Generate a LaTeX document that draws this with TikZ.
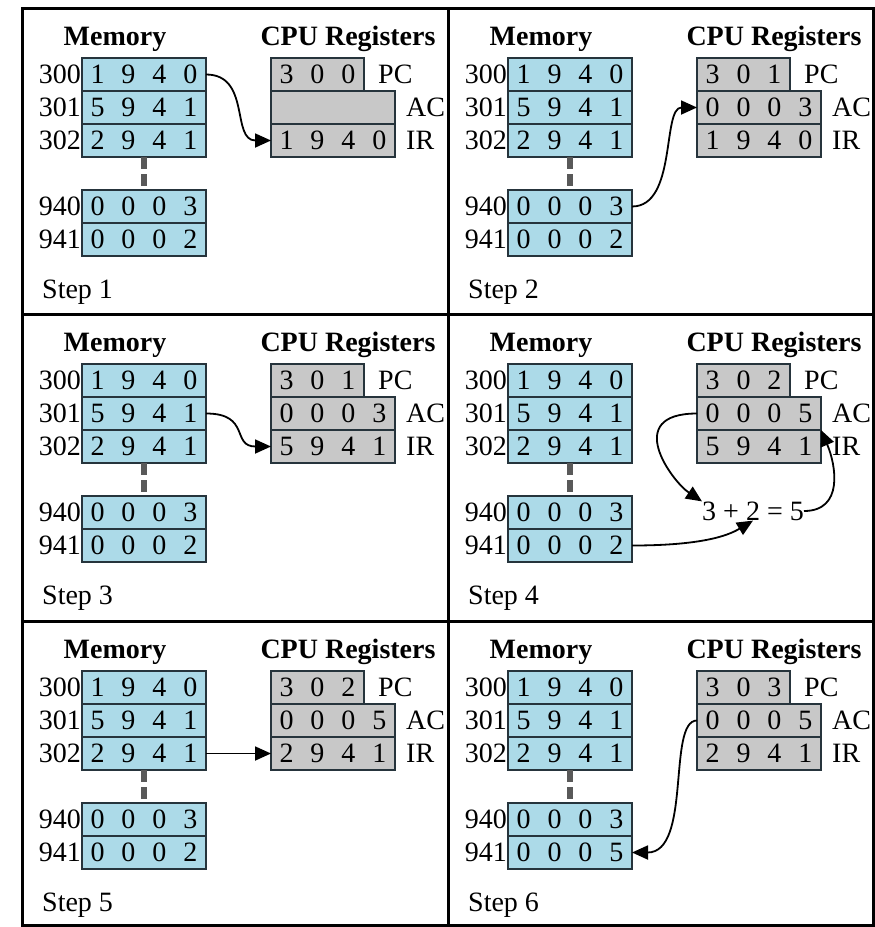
\documentclass[tikz,border=0pt]{standalone}
\usepackage{fontspec}
\setmainfont{Liberation Serif}
\usepackage{xcolor}
\usepackage{tikz}
\usetikzlibrary{
  arrows.meta,
  positioning
}
\definecolor{memblue}{RGB}{172,218,232}
\definecolor{reggray}{RGB}{200,200,200}
\definecolor{cellline}{RGB}{38,52,60}
\newcommand{\cellfont}{\fontsize{28}{30}\selectfont}
\newcommand{\dg}[1]{\makebox[31pt]{#1}}
\tikzset{
  memcell/.style   = {draw=cellline, fill=memblue, line width=2pt,
                      minimum width=124pt, minimum height=33pt,
                      inner sep=0pt, outer sep=0pt, font=\cellfont},
  regcell/.style   = {memcell, fill=reggray},
  addr/.style      = {inner sep=1pt, font=\cellfont},
  reglabel/.style  = {inner sep=1pt, font=\cellfont},
  heading/.style   = {inner sep=0pt, font=\cellfont\bfseries, anchor=base},
  steplabel/.style = {inner sep=0pt, font=\cellfont, anchor=base west},
  gap/.style       = {line width=6pt, gray!70!black, dash pattern=on 12pt off 5pt},
  arrow/.style     = {-{Triangle[length=16pt, width=14pt]}, line width=1.8pt},
  frame/.style     = {line width=3pt},
}
% one panel: #1 name, #2 PC, #3 AC, #4 IR, #5 word 941, #6 step
\newcommand{\cpustate}[6]{%
  \node[heading] (#1-mem) at (93,37) {Memory};
  \node[heading] (#1-cpu) at (326,37) {CPU Registers};
  \node[memcell] (#1-300) at (122,66.5) {\dg1\dg9\dg4\dg0};
  \node[memcell, below=0pt of #1-300] (#1-301) {\dg5\dg9\dg4\dg1};
  \node[memcell, below=0pt of #1-301] (#1-302) {\dg2\dg9\dg4\dg1};
  \node[memcell, below=33pt of #1-302] (#1-940) {\dg0\dg0\dg0\dg3};
  \node[memcell, below=0pt of #1-940] (#1-941) {#5};
  \draw[gap] (#1-302) -- (#1-940);
  \node[addr, left=0pt of #1-300] (#1-a300) {300};
  \node[addr, left=0pt of #1-301] (#1-a301) {301};
  \node[addr, left=0pt of #1-302] (#1-a302) {302};
  \node[addr, left=0pt of #1-940] (#1-a940) {940};
  \node[addr, left=0pt of #1-941] (#1-a941) {941};
  \node[regcell] (#1-ac) at (311,99.5) {#3};
  \node[regcell, minimum width=93pt, anchor=south west] (#1-pc) at (#1-ac.north west) {#2};
  \node[regcell, below=0pt of #1-ac] (#1-ir) {#4};
  \node[reglabel, right=13pt of #1-pc] (#1-pcl) {PC};
  \node[reglabel, right=10pt of #1-ac] (#1-acl) {AC};
  \node[reglabel, right=10pt of #1-ir] (#1-irl) {IR};
  \node[steplabel] (#1-step) at (20,290) {Step #6};
}

\begin{document}
\begin{tikzpicture}[x=1pt, y=-1pt]
\useasboundingbox (0,0) rectangle (875,927);

% ========== Step 1 ==========
\begin{scope}[shift={(22,8)}]
  \cpustate{s1}{\dg3\dg0\dg0}{}{\dg1\dg9\dg4\dg0}{\dg0\dg0\dg0\dg2}{1}
  \draw[arrow] (s1-300.east) .. controls +(45,0) and +(-40,0) .. (s1-ir.west);
\end{scope}

% ========== Step 2 ==========
\begin{scope}[shift={(448,8)}]
  \cpustate{s2}{\dg3\dg0\dg1}{\dg0\dg0\dg0\dg3}{\dg1\dg9\dg4\dg0}{\dg0\dg0\dg0\dg2}{2}
  \draw[arrow] (s2-940.east) .. controls +(45,0) and +(-35,0) .. (s2-ac.west);
\end{scope}

% ========== Step 3 ==========
\begin{scope}[shift={(22,314)}]
  \cpustate{s3}{\dg3\dg0\dg1}{\dg0\dg0\dg0\dg3}{\dg5\dg9\dg4\dg1}{\dg0\dg0\dg0\dg2}{3}
  \draw[arrow] (s3-301.east) .. controls +(45,0) and +(-40,0) .. (s3-ir.west);
\end{scope}

% ========== Step 4 ==========
\begin{scope}[shift={(448,314)}]
  \cpustate{s4}{\dg3\dg0\dg2}{\dg0\dg0\dg0\dg5}{\dg5\dg9\dg4\dg1}{\dg0\dg0\dg0\dg2}{4}
  \node[inner sep=0pt, font=\cellfont] (s4-sum) at (305,197) {3 + 2 = 5};
  \draw[arrow] (s4-ac.west) .. controls +(-75,0) and +(-30,-20) .. (s4-sum.north west);
  \draw[arrow] (s4-941.east) .. controls +(70,0) and +(-25,15) .. (s4-sum.south);
  \draw[arrow] (s4-sum.east) .. controls +(40,0) and +(15,35) .. (s4-ac.south east);
\end{scope}

% ========== Step 5 ==========
\begin{scope}[shift={(22,621)}]
  \cpustate{s5}{\dg3\dg0\dg2}{\dg0\dg0\dg0\dg5}{\dg2\dg9\dg4\dg1}{\dg0\dg0\dg0\dg2}{5}
  \draw[arrow] (s5-302.east) -- (s5-ir.west);
\end{scope}

% ========== Step 6 ==========
\begin{scope}[shift={(448,621)}]
  \cpustate{s6}{\dg3\dg0\dg3}{\dg0\dg0\dg0\dg5}{\dg2\dg9\dg4\dg1}{\dg0\dg0\dg0\dg5}{6}
  \draw[arrow] (s6-ac.west) .. controls +(-30,0) and +(60,0) .. (s6-941.east);
\end{scope}

% Frame and dividers
\draw[frame] (22,8) rectangle (873,925);
\draw[frame] (448,8) -- (448,925);
\draw[frame] (22,314) -- (873,314);
\draw[frame] (22,621) -- (873,621);

\end{tikzpicture}
\end{document}
